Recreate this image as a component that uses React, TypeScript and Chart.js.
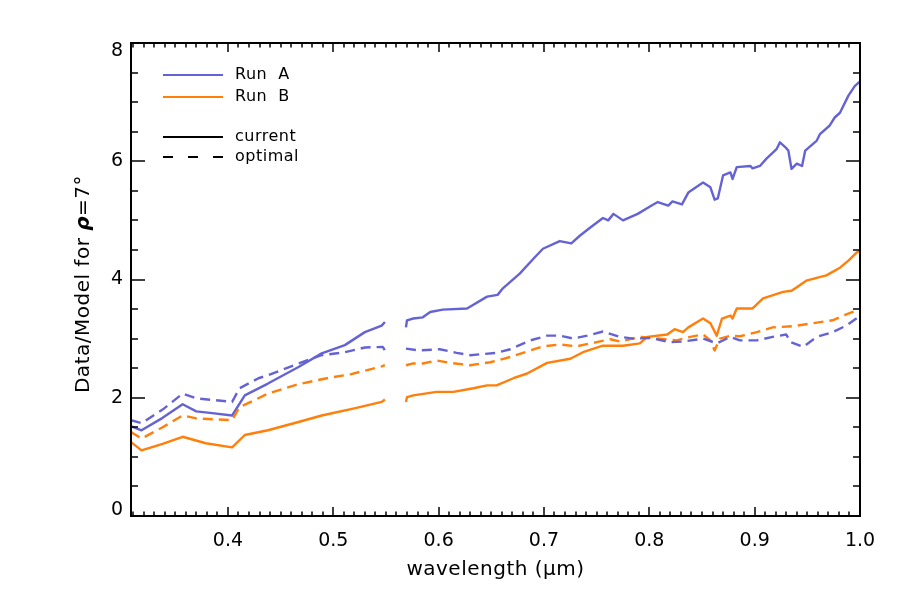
import React, { useEffect, useRef } from "react";
import { Chart, registerables } from "chart.js";

Chart.register(...registerables);

// Wavelength (µm) and Data/Model ratio for each run; null marks the gap in coverage.
const WL_A_CUR = [0.308,0.318,0.338,0.357,0.370,0.385,0.404,0.416,0.438,0.467,0.489,0.511,0.530,0.546,0.549,0.559,0.569,0.570,0.576,0.585,0.592,0.604,0.627,0.646,0.656,0.661,0.677,0.690,0.699,0.715,0.726,0.734,0.744,0.756,0.761,0.766,0.775,0.789,0.801,0.808,0.818,0.822,0.831,0.837,0.851,0.858,0.862,0.865,0.870,0.877,0.879,0.883,0.896,0.898,0.905,0.911,0.921,0.924,0.929,0.932,0.935,0.940,0.945,0.948,0.959,0.962,0.971,0.976,0.981,0.989,0.995,1.000];
const VAL_A_CUR = [1.52,1.45,1.66,1.89,1.77,1.74,1.70,2.04,2.24,2.52,2.75,2.89,3.11,3.22,3.28,null,3.19,3.31,3.34,3.36,3.45,3.49,3.51,3.71,3.74,3.85,4.10,4.35,4.52,4.65,4.61,4.74,4.88,5.04,5.00,5.11,5.00,5.11,5.24,5.31,5.25,5.32,5.27,5.47,5.64,5.56,5.35,5.37,5.76,5.81,5.70,5.90,5.92,5.88,5.92,6.04,6.21,6.32,6.24,6.18,5.87,5.96,5.92,6.18,6.35,6.46,6.60,6.74,6.82,7.11,7.27,7.35];

const WL_A_OPT = [0.308,0.318,0.338,0.357,0.370,0.404,0.411,0.429,0.438,0.467,0.489,0.511,0.530,0.547,0.549,0.559,0.569,0.582,0.601,0.617,0.630,0.655,0.668,0.687,0.703,0.715,0.728,0.741,0.756,0.772,0.785,0.801,0.820,0.832,0.851,0.864,0.877,0.886,0.902,0.917,0.930,0.934,0.946,0.959,0.974,0.987,0.998,1.000];
const VAL_A_OPT = [1.62,1.57,1.80,2.07,1.99,1.93,2.16,2.33,2.38,2.58,2.72,2.77,2.85,2.86,2.80,null,2.83,2.80,2.82,2.76,2.72,2.76,2.82,2.97,3.05,3.05,3.00,3.05,3.12,3.03,3.00,3.01,2.94,2.95,3.00,2.92,3.03,2.97,2.97,3.03,3.07,2.94,2.86,3.03,3.11,3.22,3.36,3.38];

const WL_B_CUR = [0.308,0.318,0.338,0.357,0.379,0.404,0.416,0.438,0.467,0.489,0.520,0.546,0.549,0.559,0.569,0.570,0.576,0.598,0.614,0.633,0.646,0.655,0.671,0.684,0.703,0.725,0.737,0.756,0.775,0.791,0.798,0.817,0.824,0.832,0.837,0.851,0.858,0.864,0.869,0.877,0.879,0.883,0.898,0.908,0.927,0.935,0.940,0.949,0.968,0.981,0.989,0.997,1.000];
const VAL_B_CUR = [1.25,1.11,1.22,1.34,1.23,1.16,1.37,1.45,1.59,1.70,1.82,1.93,1.97,null,1.93,2.01,2.04,2.10,2.10,2.16,2.21,2.21,2.33,2.41,2.59,2.66,2.77,2.88,2.88,2.92,3.03,3.07,3.16,3.11,3.19,3.34,3.26,3.05,3.34,3.39,3.34,3.51,3.51,3.68,3.79,3.81,3.87,3.98,4.07,4.20,4.32,4.46,4.48];

const WL_B_OPT = [0.308,0.318,0.338,0.357,0.370,0.404,0.411,0.438,0.467,0.494,0.517,0.546,0.549,0.559,0.569,0.576,0.585,0.598,0.611,0.630,0.649,0.668,0.687,0.699,0.715,0.731,0.750,0.763,0.772,0.791,0.810,0.826,0.839,0.851,0.858,0.862,0.867,0.877,0.886,0.902,0.917,0.936,0.955,0.974,0.987,1.000];
const VAL_B_OPT = [1.42,1.31,1.50,1.70,1.65,1.62,1.84,2.07,2.23,2.33,2.40,2.53,2.55,null,2.55,2.58,2.58,2.63,2.59,2.55,2.60,2.69,2.80,2.87,2.90,2.87,2.94,2.99,2.95,3.03,3.00,2.97,3.03,3.07,2.97,2.80,3.00,3.05,3.04,3.11,3.19,3.21,3.26,3.31,3.41,3.50];

const X_TICKS = [0.4, 0.5, 0.6, 0.7, 0.8, 0.9, 1.0];
const Y_TICKS = [0, 2, 4, 6, 8];
const X_MIN = 0.308;
const X_MAX = 1.0;
const Y_MIN = 0;
const Y_MAX = 8;
const X_MINOR_STEP = 0.01;
const Y_MINOR_STEP = 0.5;

const BLUE = "#6563d4";
const ORANGE = "#ff7f0a";
const FONT = "'DejaVu Sans', sans-serif";

const toPoints = (wl: number[], val: (number | null)[]) =>
  wl.map((x, i) => ({ x, y: val[i] }));

// Axes box with inward ticks on all four sides, tick labels, titles and the key.
const framePlugin = {
  id: "idlFrame",
  afterDatasetsDraw(chart: any) {
    const { ctx, chartArea: a, scales } = chart;
    const xs = scales.x;
    const ys = scales.y;
    const line = (x1: number, y1: number, x2: number, y2: number) => {
      ctx.beginPath();
      ctx.moveTo(x1, y1);
      ctx.lineTo(x2, y2);
      ctx.stroke();
    };
    ctx.save();
    ctx.strokeStyle = "#000";
    ctx.fillStyle = "#000";
    ctx.setLineDash([]);

    // minor + major ticks on x
    ctx.lineWidth = 1.5;
    const nx = Math.round((X_MAX - 0.3) / X_MINOR_STEP);
    for (let i = 0; i <= nx; i++) {
      const v = 0.3 + i * X_MINOR_STEP;
      if (v < X_MIN - 1e-9 || v > X_MAX + 1e-9) continue;
      const px = Math.round(xs.getPixelForValue(v));
      const major = X_TICKS.some((t) => Math.abs(t - v) < 1e-6);
      const len = major ? 9 : 4.5;
      line(px, a.bottom, px, a.bottom - len);
      line(px, a.top, px, a.top + len);
    }
    // minor + major ticks on y
    const ny = Math.round((Y_MAX - Y_MIN) / Y_MINOR_STEP);
    for (let i = 0; i <= ny; i++) {
      const v = Y_MIN + i * Y_MINOR_STEP;
      const py = Math.round(ys.getPixelForValue(v));
      const major = Y_TICKS.some((t) => Math.abs(t - v) < 1e-6);
      const len = major ? 14 : 7;
      line(a.left, py, a.left + len, py);
      line(a.right, py, a.right - len, py);
    }

    // box
    ctx.lineWidth = 2;
    ctx.strokeRect(a.left, a.top, a.right - a.left, a.bottom - a.top);

    // tick labels
    ctx.font = `19px ${FONT}`;
    ctx.textBaseline = "middle";
    ctx.textAlign = "center";
    X_TICKS.forEach((t) => {
      ctx.fillText(t.toFixed(1), xs.getPixelForValue(t), 541);
    });
    ctx.textAlign = "right";
    Y_TICKS.forEach((t) => {
      const py = ys.getPixelForValue(t);
      const c = Math.min(Math.max(py, a.top + 8), a.bottom - 6);
      ctx.fillText(String(t), a.left - 8, c);
    });

    // x title
    (ctx as any).letterSpacing = "0.5px";
    ctx.font = `20px ${FONT}`;
    ctx.textAlign = "center";
    ctx.fillText("wavelength (\u03bcm)", (a.left + a.right) / 2, 570);

    // y title, rotated, with a bold italic rho
    const parts = [
      { t: "Data/Model for ", f: `20px ${FONT}` },
      { t: "\u03c1", f: `italic bold 20px ${FONT}` },
      { t: "=7\u00b0", f: `20px ${FONT}` },
    ];
    let total = 0;
    parts.forEach((p) => {
      ctx.font = p.f;
      total += ctx.measureText(p.t).width;
    });
    ctx.save();
    ctx.translate(84, 284);
    ctx.rotate(-Math.PI / 2);
    ctx.textAlign = "left";
    let cx = -total / 2;
    parts.forEach((p) => {
      ctx.font = p.f;
      ctx.fillText(p.t, cx, 0);
      cx += ctx.measureText(p.t).width;
    });
    ctx.restore();

    // key
    const keys = [
      { label: "Run  A", color: BLUE, dash: [] as number[], y: 75 },
      { label: "Run  B", color: ORANGE, dash: [] as number[], y: 97 },
      { label: "current", color: "#000", dash: [] as number[], y: 137 },
      { label: "optimal", color: "#000", dash: [10, 15], y: 157 },
    ];
    ctx.font = `16px ${FONT}`;
    ctx.textAlign = "left";
    (ctx as any).letterSpacing = "0.5px";
    keys.forEach((k) => {
      ctx.strokeStyle = k.color;
      ctx.lineWidth = 2;
      ctx.setLineDash(k.dash);
      line(163, k.y, 223, k.y);
      ctx.setLineDash([]);
      ctx.fillStyle = "#000";
      ctx.fillText(k.label, 235, k.y);
    });
    ctx.restore();
  },
};

export default function App() {
  const canvasRef = useRef<HTMLCanvasElement | null>(null);

  useEffect(() => {
    if (!canvasRef.current) return;
    const base = {
      pointRadius: 0,
      borderWidth: 2.4,
      tension: 0,
      spanGaps: false,
      fill: false,
      borderJoinStyle: "round",
      borderCapStyle: "butt",
    };
    const chart = new Chart(canvasRef.current, {
      type: "line",
      data: {
        datasets: [
          { ...base, label: "Run A optimal", data: toPoints(WL_A_OPT, VAL_A_OPT), borderColor: BLUE, borderDash: [10, 6] },
          { ...base, label: "Run B optimal", data: toPoints(WL_B_OPT, VAL_B_OPT), borderColor: ORANGE, borderDash: [10, 6] },
          { ...base, label: "Run B current", data: toPoints(WL_B_CUR, VAL_B_CUR), borderColor: ORANGE },
          { ...base, label: "Run A current", data: toPoints(WL_A_CUR, VAL_A_CUR), borderColor: BLUE },
        ] as any,
      },
      options: {
        animation: false,
        responsive: false,
        devicePixelRatio: 1,
        parsing: false,
        normalized: true,
        layout: { padding: { left: 131, right: 40, top: 43, bottom: 84 } },
        scales: {
          x: { type: "linear", min: X_MIN, max: X_MAX, display: false },
          y: { type: "linear", min: Y_MIN, max: Y_MAX, display: false },
        },
        plugins: {
          legend: { display: false },
          tooltip: { enabled: false },
        },
        events: [],
      },
      plugins: [framePlugin],
    });
    return () => chart.destroy();
  }, []);

  return (
    <div style={{ position: "absolute", left: 0, top: 0, width: 900, height: 600, background: "#fff" }}>
      <canvas ref={canvasRef} width={900} height={600} />
    </div>
  );
}
